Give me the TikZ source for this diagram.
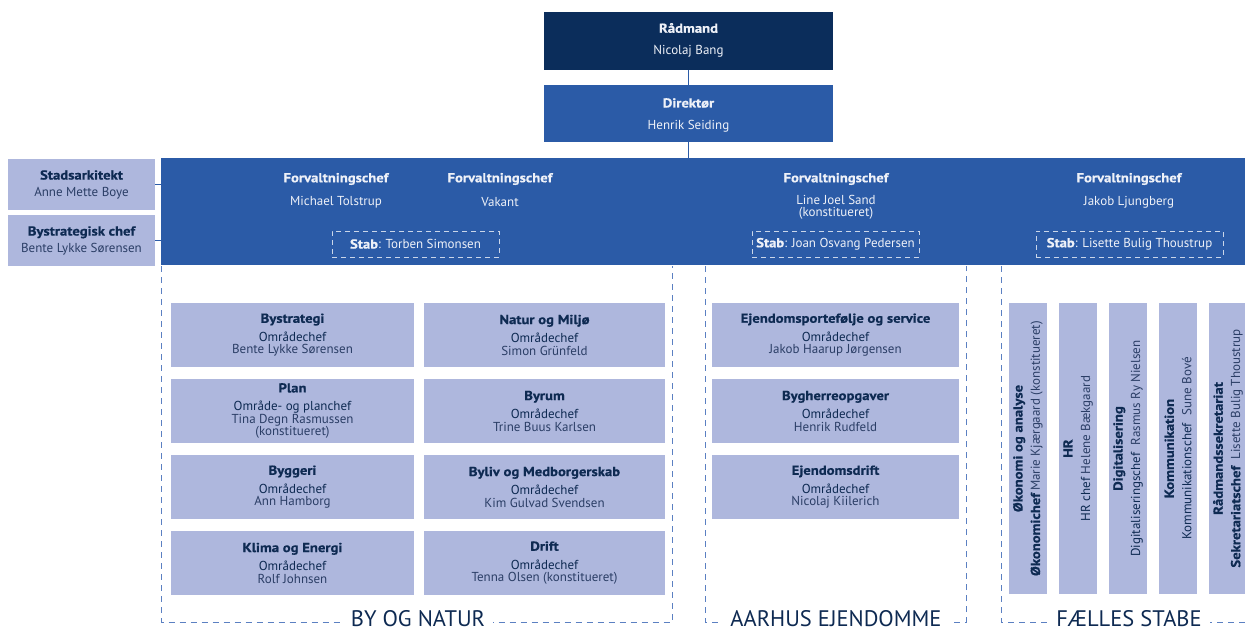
\documentclass[tikz,border=0pt]{standalone}
\usepackage{fontspec}
\setmainfont{PT Sans}
\newfontfamily\hvfont[FakeStretch=1.13,FakeBold=0.6]{PT Sans Bold}
\newcommand{\hb}[1]{{\hvfont #1}}
\definecolor{navy}{HTML}{0B2D5B}
\definecolor{midb}{HTML}{2B5BA7}
\definecolor{lightb}{HTML}{AEB7DD}
\definecolor{txt}{HTML}{0E2A52}
\definecolor{txtb}{HTML}{2B3E66}
\definecolor{dashc}{HTML}{5B80C2}
\definecolor{wtxt}{HTML}{EEF1F8}
\begin{document}
\begin{tikzpicture}[x=1pt,y=-1pt,
  font=\fontsize{13}{12.5}\selectfont,
  box/.style={anchor=north west, inner sep=0pt, outer sep=0pt},
  lb/.style={box, fill=lightb, text=txt, align=center},
  darkbox/.style={box, fill=navy, text=wtxt, align=center},
  midbox/.style={box, fill=midb, text=wtxt, align=center},
  wt/.style={text=wtxt, align=center, inner sep=1pt},
  stabbox/.style={draw=white!75!midb, dash pattern=on 5pt off 4pt, line width=0.7pt,
     text=wtxt, minimum width=167, minimum height=26, inner sep=0pt},
  link/.style={draw=midb, line width=1pt},
  grp/.style={draw=dashc, dash pattern=on 6pt off 5pt, line width=0.8pt},
  grplabel/.style={fill=white, text=txt, font=\fontsize{22.5}{24}\selectfont, inner xsep=8pt, inner ysep=0pt},
  vtext/.style={rotate=90, align=center, text=txt}
]
\useasboundingbox (0,0) rectangle (1245,632);

% top boxes
\node[darkbox, minimum width=289, minimum height=58] (rad) at (544,12) {};
\node[wt] (radt) at (688.5,28) {\hb{Rådmand}};
\node[wt] (radn) at (688.5,51) {Nicolaj Bang};
\node[midbox, minimum width=289, minimum height=57] (dir) at (544,85) {};
\node[wt] (dirt) at (688.5,103) {\hb{Direktør}};
\node[wt] (dirn) at (688.5,126) {Henrik Seiding};

% band
\node[midbox, minimum width=1090, minimum height=107] (band) at (161,158) {};

\draw[link] (rad.south) -- (dir.north);
\draw[link] (dir.south) -- (dir.south |- band.north);

% left boxes
\node[lb, minimum width=147, minimum height=51] (stads) at (8,159) {\hb{Stadsarkitekt}\\[4pt]\color{txtb}Anne Mette Boye};
\node[lb, minimum width=147, minimum height=51] (byst) at (8,215) {\hb{Bystrategisk chef}\\[4pt]\color{txtb}Bente Lykke Sørensen};
\draw[link] (stads.east) -- (stads.east -| band.west);
\draw[link] (byst.east) -- (byst.east -| band.west);

% band texts
\node[wt] (f1t) at (336,179) {\hb{Forvaltningschef}};
\node[wt] (f1n) at (336,202) {Michael Tolstrup};
\node[wt] (f2t) at (500,179) {\hb{Forvaltningschef}};
\node[wt] (f2n) at (500,202) {Vakant};
\node[wt] (f3t) at (836,179) {\hb{Forvaltningschef}};
\node[wt, font=\fontsize{13}{12}\selectfont] (f3n) at (836,207) {Line Joel Sand\\(konstitueret)};
\node[wt] (f4t) at (1129,179) {\hb{Forvaltningschef}};
\node[wt] (f4n) at (1129,202) {Jakob Ljungberg};

\node[stabbox] (s1) at (415.5,244) {\hb{Stab}: Torben Simonsen};
\node[stabbox] (s2) at (835.5,244) {\hb{Stab}: Joan Osvang Pedersen};
\node[stabbox, minimum width=187] (s3) at (1129.5,244) {\hb{Stab}: Lisette Bulig Thoustrup};

% group frames
\coordinate (g1a) at (161.5,266);
\coordinate (g1b) at (161.5,622);
\coordinate (g1c) at (672,622);
\coordinate (g1d) at (672,266);
\draw[grp] (g1a) -- (g1b) -- (g1c) -- (g1d);
\coordinate (g2a) at (705,266);
\coordinate (g2b) at (705,622);
\coordinate (g2c) at (966,622);
\coordinate (g2d) at (966,266);
\draw[grp] (g2a) -- (g2b) -- (g2c) -- (g2d);
\coordinate (g3a) at (1001,266);
\coordinate (g3b) at (1001,622);
\coordinate (g3c) at (1250,622);
\draw[grp] (g3a) -- (g3b) -- (g3c);

\node[grplabel] (l1) at (418,619) {BY OG NATUR};
\node[grplabel] (l2) at (836,619) {AARHUS EJENDOMME};
\node[grplabel] (l3) at (1129,619) {FÆLLES STABE};

% By og Natur boxes
\node[lb, minimum width=243, minimum height=64] (b11) at (171,303) {\hb{Bystrategi}\\[6pt]Områdechef\\\color{txtb}Bente Lykke Sørensen};
\node[lb, minimum width=243, minimum height=64] (b21) at (171,379) {\hb{Plan}\\[6pt]Område- og planchef\\\color{txtb}Tina Degn Rasmussen\\\color{txtb}(konstitueret)};
\node[lb, minimum width=243, minimum height=64] (b31) at (171,455) {\hb{Byggeri}\\[6pt]Områdechef\\\color{txtb}Ann Hamborg};
\node[lb, minimum width=243, minimum height=64] (b41) at (171,531) {\hb{Klima og Energi}\\[6pt]Områdechef\\\color{txtb}Rolf Johnsen};
\node[lb, minimum width=241, minimum height=64] (b12) at (424,303) {\hb{Natur og Miljø}\\[6pt]Områdechef\\\color{txtb}Simon Grünfeld};
\node[lb, minimum width=241, minimum height=64] (b22) at (424,379) {\hb{Byrum}\\[6pt]Områdechef\\\color{txtb}Trine Buus Karlsen};
\node[lb, minimum width=241, minimum height=64] (b32) at (424,455) {\hb{Byliv og Medborgerskab}\\[6pt]Områdechef\\\color{txtb}Kim Gulvad Svendsen};
\node[lb, minimum width=241, minimum height=64] (b42) at (424,531) {\hb{Drift}\\[6pt]Områdechef\\\color{txtb}Tenna Olsen (konstitueret)};

% Aarhus Ejendomme boxes
\node[lb, minimum width=247, minimum height=64] (a1) at (712,303) {\hb{Ejendomsportefølje og service}\\[6pt]Områdechef\\\color{txtb}Jakob Haarup Jørgensen};
\node[lb, minimum width=247, minimum height=64] (a2) at (712,379) {\hb{Bygherreopgaver}\\[6pt]Områdechef\\\color{txtb}Henrik Rudfeld};
\node[lb, minimum width=247, minimum height=64] (a3) at (712,455) {\hb{Ejendomsdrift}\\[6pt]Områdechef\\\color{txtb}Nicolaj Kiilerich};

% Faelles stabe vertical boxes
\node[lb, minimum width=38, minimum height=291] (v1) at (1009,303) {};
\node[lb, minimum width=38, minimum height=291] (v2) at (1059,303) {};
\node[lb, minimum width=38, minimum height=291] (v3) at (1109,303) {};
\node[lb, minimum width=38, minimum height=291] (v4) at (1159,303) {};
\node[lb, minimum width=38, minimum height=291] (v5) at (1209,303) {};
\node[vtext] (v1t) at (v1.center) {\hb{Økonomi og analyse}\\[5pt]\hb{Økonomichef}\,\color{txtb}Marie Kjærgaard (konstitueret)};
\node[vtext] (v2t) at (v2.center) {\hb{HR}\\[5pt]HR chef \color{txtb}Helene Bækgaard};
\node[vtext] (v3t) at (v3.center) {\hb{Digitalisering}\\[5pt]Digitaliseringschef\hspace{4pt} \color{txtb}Rasmus Ry Nielsen};
\node[vtext] (v4t) at (v4.center) {\hb{Kommunikation}\\[5pt]Kommunikationschef\hspace{4pt} \color{txtb}Sune Bové};
\node[vtext] (v5t) at (v5.center) {\hb{Rådmandssekretariat}\\[5pt]\hb{Sekretariatschef}\hspace{3pt} \color{txtb}Lisette Bulig Thoustrup};
\end{tikzpicture}
\end{document}
